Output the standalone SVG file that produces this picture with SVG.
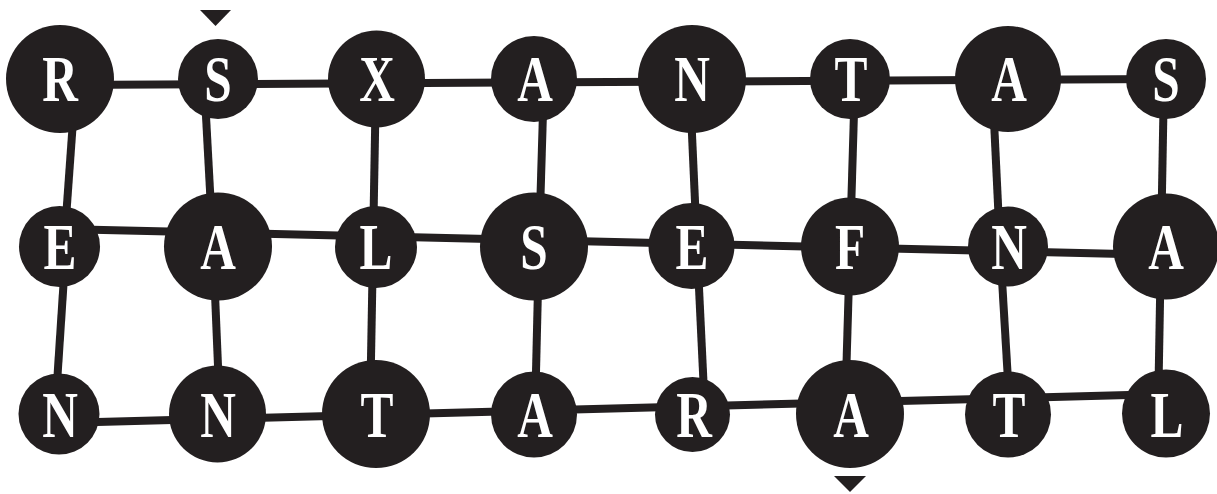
<svg xmlns="http://www.w3.org/2000/svg" width="1217" height="494" viewBox="0 0 1217 494">
<style>
.c{fill:#231f20}
.t{fill:#fff;font-family:"Liberation Serif","Times New Roman",serif;font-weight:bold;font-size:65px;text-anchor:middle}
.e{stroke:#231f20;stroke-width:8;fill:none}
.m{fill:#231f20}
</style>
<rect width="1217" height="494" fill="#fff"/>
<g id="connectors">
<line class="e" x1="60" y1="85" x2="1166" y2="79"/>
<line class="e" x1="60" y1="229" x2="1166" y2="255"/>
<line class="e" x1="60" y1="423" x2="1166" y2="394"/>
<line class="e" x1="76" y1="79" x2="64" y2="246"/>
<line class="e" x1="66" y1="246" x2="55" y2="414"/>
<line class="e" x1="204" y1="79" x2="213" y2="246"/>
<line class="e" x1="213" y1="246" x2="220" y2="414"/>
<line class="e" x1="376" y1="79" x2="373" y2="247"/>
<line class="e" x1="373" y1="247" x2="370" y2="414"/>
<line class="e" x1="544" y1="79" x2="539" y2="246"/>
<line class="e" x1="539" y1="246" x2="535" y2="414"/>
<line class="e" x1="689.5" y1="79" x2="697" y2="246"/>
<line class="e" x1="697" y1="246" x2="705" y2="414"/>
<line class="e" x1="855" y1="79" x2="850" y2="246"/>
<line class="e" x1="850" y1="246" x2="845" y2="414"/>
<line class="e" x1="992" y1="79" x2="1000" y2="246"/>
<line class="e" x1="1000" y1="246" x2="1010" y2="414"/>
<line class="e" x1="1164" y1="79" x2="1161" y2="246"/>
<line class="e" x1="1161" y1="246" x2="1158" y2="414"/>
</g>
<g id="markers">
<polygon class="m" points="200,10 231,10 215.5,26"/>
<polygon class="m" points="834,476 866,476 850,492"/>
</g>
<g id="n1"><circle class="c" cx="60" cy="79" r="54"/><text class="t" transform="translate(60 101) scale(0.76 1)">R</text></g>
<g id="n2"><circle class="c" cx="218" cy="79" r="40"/><text class="t" transform="translate(218 101) scale(0.76 1)">S</text></g>
<g id="n3"><circle class="c" cx="376.5" cy="79" r="48.5"/><text class="t" transform="translate(377 101) scale(0.76 1)">X</text></g>
<g id="n4"><circle class="c" cx="534" cy="79" r="43"/><text class="t" transform="translate(535 101) scale(0.76 1)">A</text></g>
<g id="n5"><circle class="c" cx="692" cy="79" r="54"/><text class="t" transform="translate(692 101) scale(0.76 1)">N</text></g>
<g id="n6"><circle class="c" cx="850" cy="79" r="40"/><text class="t" transform="translate(851 101) scale(0.76 1)">T</text></g>
<g id="n7"><circle class="c" cx="1008" cy="79" r="53"/><text class="t" transform="translate(1009 101) scale(0.76 1)">A</text></g>
<g id="n8"><circle class="c" cx="1166" cy="79" r="40"/><text class="t" transform="translate(1166 101) scale(0.76 1)">S</text></g>
<g id="n9"><circle class="c" cx="59.5" cy="246.5" r="40.5"/><text class="t" transform="translate(60 269) scale(0.76 1)">E</text></g>
<g id="n10"><circle class="c" cx="218" cy="246.5" r="54"/><text class="t" transform="translate(218 269) scale(0.76 1)">A</text></g>
<g id="n11"><circle class="c" cx="376" cy="247" r="41"/><text class="t" transform="translate(376 269) scale(0.76 1)">L</text></g>
<g id="n12"><circle class="c" cx="534" cy="246.5" r="54"/><text class="t" transform="translate(534 269) scale(0.76 1)">S</text></g>
<g id="n13"><circle class="c" cx="691.5" cy="246" r="43"/><text class="t" transform="translate(692 269) scale(0.76 1)">E</text></g>
<g id="n14"><circle class="c" cx="850" cy="246.5" r="49"/><text class="t" transform="translate(850 269) scale(0.76 1)">F</text></g>
<g id="n15"><circle class="c" cx="1008" cy="246.5" r="40"/><text class="t" transform="translate(1009 269) scale(0.76 1)">N</text></g>
<g id="n16"><circle class="c" cx="1166" cy="246.5" r="53"/><text class="t" transform="translate(1166 269) scale(0.76 1)">A</text></g>
<g id="n17"><circle class="c" cx="59" cy="414" r="40.5"/><text class="t" transform="translate(60 436.5) scale(0.76 1)">N</text></g>
<g id="n18"><circle class="c" cx="217.5" cy="414" r="48.5"/><text class="t" transform="translate(218 436.5) scale(0.76 1)">N</text></g>
<g id="n19"><circle class="c" cx="376" cy="414" r="54"/><text class="t" transform="translate(377 436.5) scale(0.76 1)">T</text></g>
<g id="n20"><circle class="c" cx="534" cy="414.5" r="43"/><text class="t" transform="translate(535 436.5) scale(0.76 1)">A</text></g>
<g id="n21"><circle class="c" cx="692.5" cy="414.5" r="37.5"/><text class="t" transform="translate(694 436.5) scale(0.76 1)">R</text></g>
<g id="n22"><circle class="c" cx="850" cy="414" r="54"/><text class="t" transform="translate(851 436.5) scale(0.76 1)">A</text></g>
<g id="n23"><circle class="c" cx="1008" cy="414.5" r="43"/><text class="t" transform="translate(1009 436.5) scale(0.76 1)">T</text></g>
<g id="n24"><circle class="c" cx="1166" cy="413.5" r="44"/><text class="t" transform="translate(1167 436.5) scale(0.76 1)">L</text></g>
</svg>
